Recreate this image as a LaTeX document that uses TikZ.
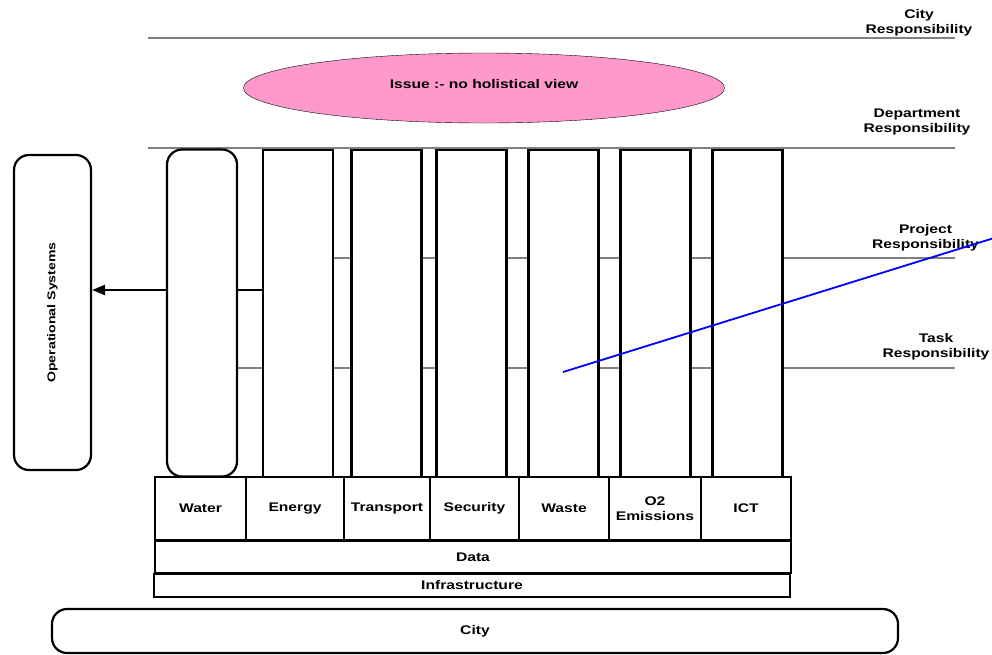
\documentclass[tikz,border=0pt]{standalone}
\usepackage{fontspec}
\setmainfont{Liberation Sans}[FakeStretch=1.25]
\usepackage{xcolor}
\usetikzlibrary{arrows.meta,shapes.geometric,backgrounds}
\definecolor{issuepink}{RGB}{255,153,204}

\begin{document}
\begin{tikzpicture}[x=1pt,y=-1pt,
  font=\fontsize{12.5}{15}\selectfont\bfseries,
  col/.style={draw,line width=2.2pt,fill=white,minimum width=70pt,minimum height=327pt,inner sep=0pt},
  rcol/.style={col,rounded corners=15pt},
  cell/.style={draw,line width=2.2pt,fill=white,minimum height=63pt,inner sep=0pt,align=center},
  bar/.style={draw,line width=2.2pt,fill=white,inner sep=0pt},
  lvl/.style={draw=gray,line width=1.1pt},
  resp/.style={align=center,inner sep=0pt}]
\useasboundingbox (0,0) rectangle (992,654);

% columns
\node[rcol] (water) at (202,313) {};
\node[col] (energy) at (298,313.5) {};
\node[col] (transport) at (386.5,313.5) {};
\node[col] (security) at (471.5,313.5) {};
\node[col] (waste) at (563.5,313.5) {};
\node[col] (o2) at (655.5,313.5) {};
\node[col] (ict) at (747.5,313.5) {};

% domains
\node[cell,minimum width=91pt] (Water) at (200.5,508.5) {Water};
\node[cell,minimum width=98pt] (Energy) at (295,508.5) {Energy};
\node[cell,minimum width=86pt] (Transport) at (387,508.5) {Transport};
\node[cell,minimum width=89pt] (Security) at (474.5,508.5) {Security};
\node[cell,minimum width=90pt] (Waste) at (564,508.5) {Waste};
\node[cell,minimum width=92pt] (O2) at (655,508.5) {O2\\Emissions};
\node[cell,minimum width=90pt] (ICT) at (746,508.5) {ICT};

\node[bar,minimum width=636pt,minimum height=32pt] (data) at (473,557) {Data};
\node[bar,minimum width=636pt,minimum height=23pt] (infra) at (472,585.5) {Infrastructure};
\node[bar,rounded corners=15pt,minimum width=846pt,minimum height=44pt] (city) at (475,631) {City};

\node[bar,rounded corners=15pt,minimum width=77pt,minimum height=315pt] (os) at (52.5,312.5) {};
\node[rotate=90,font=\fontsize{11.3}{13}\selectfont\bfseries] at (os.center) {Operational Systems};

\node[ellipse,draw,fill=issuepink,minimum width=481pt,minimum height=70pt] (issue) at (484,88) {};
\node at (484,84) {Issue :- no holistical view};

% responsibility levels
\node[resp] (cityresp) at (919,23) {City\\Responsibility};
\node[resp] (deptresp) at (917,122) {Department\\Responsibility};
\node[resp] (projresp) at (925.5,238) {Project\\Responsibility};
\node[resp] (taskresp) at (936,347) {Task\\Responsibility};

\begin{pgfonlayer}{background}
\draw[lvl] (148,38) -- (955,38);
\draw[lvl] (148,148) -- (955,148);
\draw[lvl] (263,258) -- (955,258);
\draw[lvl] (237,368) -- (955,368);
\draw[line width=2.2pt,-{Triangle[length=13pt,width=10pt]}] (energy.west |- 0,290) -- (os.east |- 0,290);
\end{pgfonlayer}

\coordinate (b1) at (563,372);
\coordinate (b2) at (994,238);
\draw[blue,line width=1.8pt] (b1) -- (b2);
\end{tikzpicture}
\end{document}
